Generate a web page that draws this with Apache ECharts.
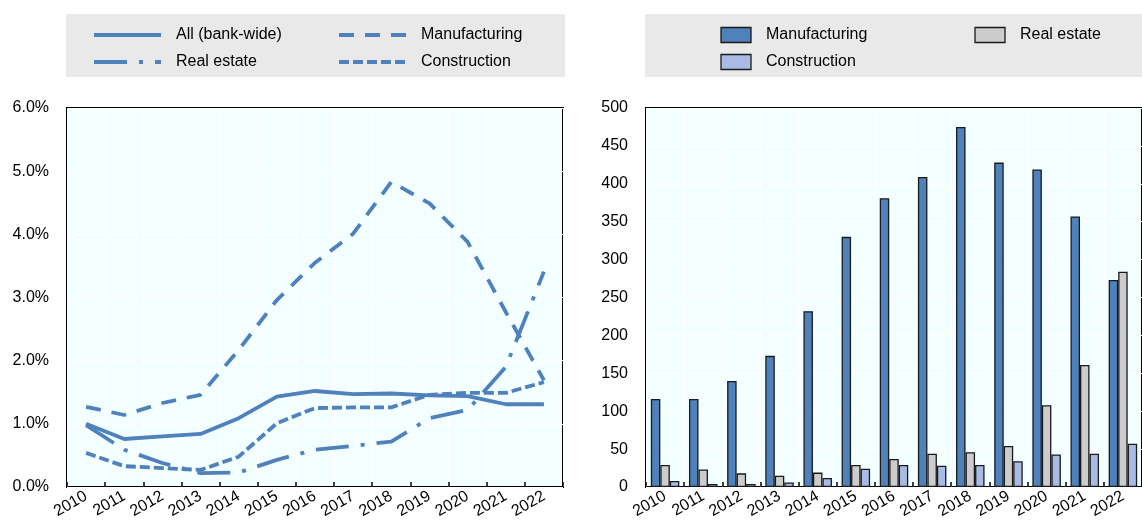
<!DOCTYPE html>
<html>
<head>
<meta charset="utf-8">
<script src="https://cdn.jsdelivr.net/npm/echarts@6/dist/echarts.min.js"></script>
<style>
html,body{margin:0;padding:0;background:#fff;}
#c{width:1142px;height:526px;}
</style>
</head>
<body>
<div id="c"></div>
<script>
const years = ['2010','2011','2012','2013','2014','2015','2016','2017','2018','2019','2020','2021','2022'];
// Left panel: ratios (%)
const allBank = [1.00,0.76,0.80,0.84,1.09,1.43,1.52,1.47,1.48,1.45,1.44,1.31,1.31];
const manufRatio = [1.27,1.14,1.33,1.46,2.17,2.96,3.55,4.01,4.83,4.49,3.88,2.77,1.69];
const realEstateRatio = [0.98,0.59,0.38,0.22,0.23,0.43,0.59,0.65,0.72,1.09,1.22,1.90,3.41];
const constrRatio = [0.54,0.33,0.30,0.27,0.48,1.01,1.25,1.26,1.26,1.46,1.49,1.49,1.66];
// Right panel: amounts
const manufAmt = [116,116,140,173,232,330,381,409,475,428,419,357,273];
const realEstateAmt = [29,23,18,15,19,29,37,44,46,54,108,161,284];
const constrAmt = [8,4,4,6,12,24,29,28,29,34,43,44,57];
const leftTicks = [0,1,2,3,4,5,6];
const rightTicks = [0,50,100,150,200,250,300,350,400,450,500];
const lineNames = ['All (bank-wide)','Manufacturing','Real estate','Construction'];
const barNames = ['Manufacturing','Real estate','Construction'];

const BLUE = '#4F81BD';
const GREY = '#CCCCCC';
const LIGHT = '#A9BBE5';
const FONT = 'Liberation Sans, Arial, sans-serif';
const txt = {color:'#000', fontFamily:FONT, fontSize:16};
const DASH = {solid:null, manuf:[15,11], real:[33,12,4,12], constr:[10,4]};

function lineSeries(name, data, dash){
  return {name, type:'line', xAxisIndex:0, yAxisIndex:0, data, symbol:'none',
    lineStyle:{color:BLUE, width:3.8, type: dash || 'solid', cap:'butt'}, itemStyle:{color:BLUE}};
}
function barSeries(name, data, color){
  return {name: name + ' ', type:'bar', xAxisIndex:1, yAxisIndex:1, data, barWidth:9.5, barGap:'0%',
    itemStyle:{color, borderColor:'#1a1a1a', borderWidth:1.3}};
}
function catAxis(gi){
  return {type:'category', gridIndex:gi, data:years, boundaryGap:true,
    axisLine:{show:false},
    axisTick:{show:true, inside:true, length:5, lineStyle:{color:'#000', width:1.5}},
    axisLabel:Object.assign({}, txt, {rotate:30, margin:8, interval:0}),
    splitLine:{show:true, lineStyle:{color:'#fff', width:1}}};
}
function legLine(x, y, dash, label){
  return [{type:'line', shape:{x1:x, y1:y, x2:x+67, y2:y},
    style:{stroke:BLUE, lineWidth:3.8, lineDash:dash || null, lineCap:'butt'}},
    {type:'text', x:x+82, y:y, style:{text:label, fill:'#000', font:'16px '+FONT, verticalAlign:'middle', align:'left'}}];
}
function legRect(x, y, color, label){
  return [{type:'rect', shape:{x:x, y:y-7.5, width:30, height:15},
    style:{fill:color, stroke:'#1a1a1a', lineWidth:1.3}},
    {type:'text', x:x+45, y:y, style:{text:label, fill:'#000', font:'16px '+FONT, verticalAlign:'middle', align:'left'}}];
}
const graphics = [
  {type:'rect', shape:{x:66,y:14,width:499,height:63}, style:{fill:'#E9E9E9'}, z:-1},
  {type:'rect', shape:{x:645,y:14,width:497,height:63}, style:{fill:'#E9E9E9'}, z:-1}
].concat(
  legLine(94, 35, DASH.solid, lineNames[0]),
  legLine(339, 35, DASH.manuf, lineNames[1]),
  legLine(94, 62, DASH.real, lineNames[2]),
  legLine(339, 62, DASH.constr, lineNames[3]),
  legRect(721, 35, BLUE, barNames[0]),
  legRect(975, 35, GREY, barNames[1]),
  legRect(721, 62, LIGHT, barNames[2])
);

const chart = echarts.init(document.getElementById('c'), null, {renderer:'canvas'});
chart.setOption({
  animation:false,
  backgroundColor:'#fff',
  graphic:graphics,
  grid:[
    {left:67, top:108, width:496, height:379, show:true, backgroundColor:'#F3FFFF', borderColor:'#000', borderWidth:2, containLabel:false},
    {left:646, top:108, width:504, height:379, show:true, backgroundColor:'#F3FFFF', borderColor:'#000', borderWidth:2, containLabel:false}
  ],
  xAxis:[catAxis(0), catAxis(1)],
  yAxis:[
    {type:'value', gridIndex:0, min:leftTicks[0], max:leftTicks[leftTicks.length-1], interval:1,
      axisLine:{show:false}, axisTick:{show:false},
      axisLabel:Object.assign({}, txt, {margin:18, formatter:v=>v.toFixed(1)+'%'}),
      splitLine:{show:true, lineStyle:{color:'#fff', width:1}}},
    {type:'value', gridIndex:1, min:rightTicks[0], max:rightTicks[rightTicks.length-1], interval:50,
      axisLine:{show:false}, axisTick:{show:false},
      axisLabel:Object.assign({}, txt, {margin:18}),
      splitLine:{show:true, lineStyle:{color:'#fff', width:1}}}
  ],
  series:[
    lineSeries(lineNames[0], allBank, DASH.solid),
    lineSeries(lineNames[1], manufRatio, DASH.manuf),
    lineSeries(lineNames[2], realEstateRatio, DASH.real),
    lineSeries(lineNames[3], constrRatio, DASH.constr),
    barSeries(barNames[0], manufAmt, BLUE),
    barSeries(barNames[1], realEstateAmt, GREY),
    barSeries(barNames[2], constrAmt, LIGHT)
  ]
});
</script>
</body>
</html>
